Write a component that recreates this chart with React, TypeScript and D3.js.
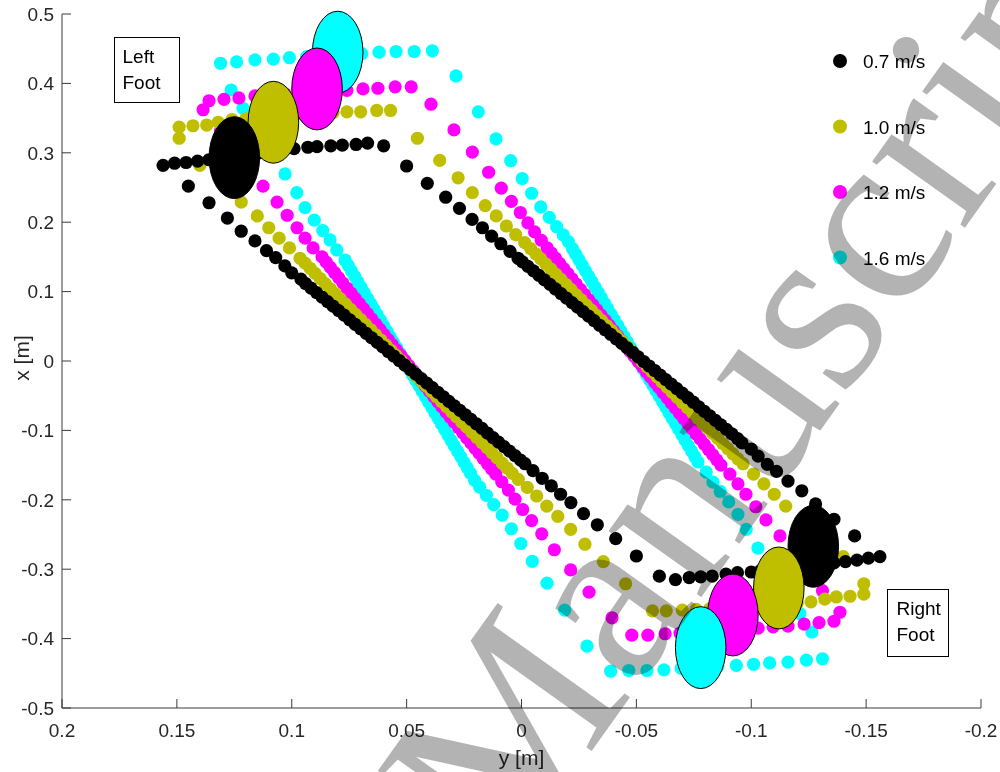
import React from "react";
import * as d3 from "d3";

// Every point is [lateral y, forward x] in millimetres.
type P = [number, number];

const SPEEDS = ["0.7 m/s", "1.0 m/s", "1.2 m/s", "1.6 m/s"];
const COLORS = ["#000000", "#bfbf00", "#ff00ff", "#00ffff"];

const X_TICKS = [0.2, 0.15, 0.1, 0.05, 0, -0.05, -0.1, -0.15, -0.2];
const X_TICK_LABELS = ["0.2", "0.15", "0.1", "0.05", "0", "-0.05", "-0.1", "-0.15", "-0.2"];
const Y_TICKS = [0.5, 0.4, 0.3, 0.2, 0.1, 0, -0.1, -0.2, -0.3, -0.4, -0.5];
const Y_TICK_LABELS = ["0.5", "0.4", "0.3", "0.2", "0.1", "0", "-0.1", "-0.2", "-0.3", "-0.4", "-0.5"];

// ---- 0.7 m/s ----
const BLACK_LEFT_ROW: P[] = [[156,282],[151,285],[146,286],[141,288],[136,290],[130,293],[126,295],[120,297],[115,299],[110,301],[105,303],[99,306],[93,308],[89,309],[83,310],[78,311],[72,312],[67,314],[60,310]];
const BLACK_DIAG_A: P[] = [[145,252],[136,228],[128,206],[122,187],[116,173],[111,159],[107,149],[103,137],[100,127],[96,118],
  [94,111.7],[91.6,105.1],[89.2,98.6],[86.8,92.1],[84.4,85.6],[82,79],[79.6,72.5],[77.2,66],[74.8,59.4],[72.4,52.9],[70,46.4],[67.6,39.9],[65.2,33.3],[62.8,26.8],[60.4,20.3],[58,13.7],[55.6,7.2],[53.2,0.7],[50.8,-5.8],[48.4,-12.4],[46,-18.9],[43.6,-25.4],[41.2,-32],[38.8,-38.5],[36.4,-45],[34,-51.5],[31.6,-58.1],[29.2,-64.6],[26.8,-71.1],[24.4,-77.6],[22,-84.2],[19.6,-90.7],[17.2,-97.2],[14.8,-103.8],[12.4,-110.3],[10,-116.8],[7.6,-123.3],[5.2,-129.9],[2.8,-136.4],[0.4,-142.9],
  [-1.5,-148],[-5,-158],[-9,-169],[-13,-180],[-17,-192],[-21.5,-204],[-27,-220],[-33,-236],[-41,-256],[-50,-281]];
const BLACK_RIGHT_ROW: P[] = [[-156,-282],[-151,-284],[-146,-287],[-141,-289],[-136,-291],[-130,-293],[-125,-295],[-120,-297],[-115,-299],[-110,-300],[-104,-302],[-100,-304],[-94,-305],[-89,-307],[-83,-310],[-78,-311],[-73,-312],[-67,-315],[-60,-310]];
const BLACK_DIAG_B: P[] = [[50,281],[41,256],[33,236],[27,220],[21.5,204],[17,192],[13,180],[9,169],[5,158],[1.5,148],
  [-0.4,142.9],[-2.8,136.4],[-5.2,129.9],[-7.6,123.3],[-10,116.8],[-12.4,110.3],[-14.8,103.8],[-17.2,97.2],[-19.6,90.7],[-22,84.2],[-24.4,77.6],[-26.8,71.1],[-29.2,64.6],[-31.6,58.1],[-34,51.5],[-36.4,45],[-38.8,38.5],[-41.2,32],[-43.6,25.4],[-46,18.9],[-48.4,12.4],[-50.8,5.8],[-53.2,-0.7],[-55.6,-7.2],[-58,-13.7],[-60.4,-20.3],[-62.8,-26.8],[-65.2,-33.3],[-67.6,-39.9],[-70,-46.4],[-72.4,-52.9],[-74.8,-59.4],[-77.2,-66],[-79.6,-72.5],[-82,-79],[-84.4,-85.6],[-86.8,-92.1],[-89.2,-98.6],[-91.6,-105.1],[-94,-111.7],
  [-96,-118],[-100,-127],[-103,-137],[-107,-149],[-111,-159],[-116,-173],[-122,-187],[-128,-206],[-136,-228],[-145,-252]];

// ---- 1.0 m/s ----
const OLIVE_LEFT_ROW: P[] = [[149,337],[143,339],[137,340],[132,344],[126,348],[120,349],[113,351],[107,352],[101,354],[95,355],[89,357],[82,358],[76,359],[70,359],[63,361],[57,361]];
const OLIVE_DIAG_A: P[] = [[149,321],[140,282],[130,255],[122,229],[115,209],[110,192],[105.5,177],[101,163],[96.4,148],
  [94.2,141],[92,133.6],[89.8,126.2],[87.6,118.9],[85.4,111.5],[83.2,104.1],[81,96.7],[78.8,89.3],[76.6,81.9],[74.4,74.5],[72.2,67.1],[70,59.8],[67.8,52.4],[65.6,45],[63.4,37.6],[61.2,30.2],[59,22.8],[56.8,15.4],[54.6,8],[52.4,0.7],[50.2,-6.7],[48,-14.1],[45.8,-21.5],[43.6,-28.9],[41.4,-36.3],[39.2,-43.7],[37,-51.1],[34.8,-58.4],[32.6,-65.8],[30.4,-73.2],[28.2,-80.6],[26,-88],[23.8,-95.4],[21.6,-102.8],[19.4,-110.2],[17.2,-117.5],[15,-124.9],[12.8,-132.3],[10.6,-139.7],[8.4,-147.1],[6.2,-154.5],[4,-161.9],
  [1.4,-170.5],[-2.5,-182],[-6.6,-194.5],[-11,-209],[-15.8,-224],[-21.4,-242.5],[-27.6,-264],[-35.6,-289],[-45.3,-321]];
const OLIVE_RIGHT_ROW: P[] = [[-149,-336],[-143,-339],[-137,-340],[-132,-343],[-126,-347],[-120,-349],[-113,-350],[-107,-352],[-101,-353],[-95,-355],[-89,-356],[-82,-357],[-76,-358],[-70,-359],[-63,-360],[-57,-360]];
const OLIVE_DIAG_B: P[] = [[45.3,321],[35.6,289],[27.6,264],[21.4,242.5],[15.8,224],[11,209],[6.6,194.5],[2.5,182],[-1.4,170.5],
  [-4,161.9],[-6.2,154.5],[-8.4,147.1],[-10.6,139.7],[-12.8,132.3],[-15,124.9],[-17.2,117.5],[-19.4,110.2],[-21.6,102.8],[-23.8,95.4],[-26,88],[-28.2,80.6],[-30.4,73.2],[-32.6,65.8],[-34.8,58.4],[-37,51.1],[-39.2,43.7],[-41.4,36.3],[-43.6,28.9],[-45.8,21.5],[-48,14.1],[-50.2,6.7],[-52.4,-0.7],[-54.6,-8],[-56.8,-15.4],[-59,-22.8],[-61.2,-30.2],[-63.4,-37.6],[-65.6,-45],[-67.8,-52.4],[-70,-59.8],[-72.2,-67.1],[-74.4,-74.5],[-76.6,-81.9],[-78.8,-89.3],[-81,-96.7],[-83.2,-104.1],[-85.4,-111.5],[-87.6,-118.9],[-89.8,-126.2],[-92,-133.6],[-94.2,-141],
  [-96.4,-148],[-101,-163],[-105.5,-177],[-110,-192],[-115,-209],[-122,-229],[-130,-255],[-140,-282],[-149,-321]];

// ---- 1.2 m/s ----
const MAGENTA_LEFT_ROW: P[] = [[136,375],[129.5,377],[123,379],[116,382],[109.5,383],[103,385],[96,386],[89,388],[83,388],[76,390],[69,392],[62.5,393],[55,395],[48,395]];
const MAGENTA_DIAG_A: P[] = [[138.6,362],[131,331],[124,303],[118,278],[112.5,252],[106.4,229],[102,210],[97.7,192],[94.2,177],[90.7,163],[86.8,150],
  [85,142.4],[83.2,135],[81.4,127.5],[79.6,120.1],[77.8,112.6],[76,105.2],[74.2,97.7],[72.4,90.3],[70.6,82.8],[68.8,75.4],[67,67.9],[65.2,60.5],[63.4,53],[61.6,45.6],[59.8,38.1],[58,30.7],[56.2,23.2],[54.4,15.8],[52.6,8.3],[50.8,0.9],[49,-6.6],[47.2,-14],[45.4,-21.5],[43.6,-28.9],[41.8,-36.4],[40,-43.8],[38.2,-51.3],[36.4,-58.7],[34.6,-66.2],[32.8,-73.6],[31,-81.1],[29.2,-88.5],[27.4,-96],[25.6,-103.4],[23.8,-110.9],[22,-118.3],[20.2,-125.8],[18.4,-133.2],[16.6,-140.7],[14.8,-148.1],[13,-155.6],[11.2,-163],
  [8.6,-174],[5.7,-186],[2.8,-199],[-0.5,-214],[-4.4,-230],[-8.8,-249],[-14.3,-272],[-21.4,-301],[-29.4,-333],[-39.4,-370]];
const MAGENTA_RIGHT_ROW: P[] = [[-136,-375],[-129.5,-377],[-123,-379],[-116,-382],[-109.5,-383],[-103,-385],[-96,-386],[-89,-388],[-83,-388],[-76,-390],[-69,-392],[-62.5,-393],[-55,-395],[-48,-395]];
const MAGENTA_DIAG_B: P[] = [[39.4,370],[29.4,333],[21.4,301],[14.3,272],[8.8,249],[4.4,230],[0.5,214],[-2.8,199],[-5.7,186],[-8.6,174],
  [-11.2,163],[-13,155.6],[-14.8,148.1],[-16.6,140.7],[-18.4,133.2],[-20.2,125.8],[-22,118.3],[-23.8,110.9],[-25.6,103.4],[-27.4,96],[-29.2,88.5],[-31,81.1],[-32.8,73.6],[-34.6,66.2],[-36.4,58.7],[-38.2,51.3],[-40,43.8],[-41.8,36.4],[-43.6,28.9],[-45.4,21.5],[-47.2,14],[-49,6.6],[-50.8,-0.9],[-52.6,-8.3],[-54.4,-15.8],[-56.2,-23.2],[-58,-30.7],[-59.8,-38.1],[-61.6,-45.6],[-63.4,-53],[-65.2,-60.5],[-67,-67.9],[-68.8,-75.4],[-70.6,-82.8],[-72.4,-90.3],[-74.2,-97.7],[-76,-105.2],[-77.8,-112.6],[-79.6,-120.1],[-81.4,-127.5],[-83.2,-135],[-85,-142.4],
  [-86.8,-150],[-90.7,-163],[-94.2,-177],[-97.7,-192],[-102,-210],[-106.4,-229],[-112.5,-252],[-118,-278],[-124,-303],[-131,-331],[-138.6,-362]];

// ---- 1.6 m/s ----
const CYAN_LEFT_ROW: P[] = [[131,429],[124,431],[116,434],[108,435],[101,437],[93.5,438.5],[85.5,439.5],[78,441],[69.5,443],[62,445],[54.6,446],[46.7,446],[38.8,447]];
const CYAN_DIAG_A: P[] = [[126.4,390.5],[121.2,364],[115.5,333.6],[109,301],[102.9,269.5],[97.8,242.5],[94.2,221],[90.2,203],[86.5,188],[83.3,174.4],[80.4,160],[76.8,145.5],
  [75.4,137.6],[74,129.7],[72.6,121.9],[71.2,114],[69.8,106.1],[68.4,98.2],[67,90.3],[65.6,82.5],[64.2,74.6],[62.8,66.7],[61.4,58.8],[60,50.9],[58.6,43.1],[57.2,35.2],[55.8,27.3],[54.4,19.4],[53,11.6],[51.6,3.7],[50.2,-4.2],[48.8,-12.1],[47.4,-20],[46,-27.8],[44.6,-35.7],[43.2,-43.6],[41.8,-51.5],[40.4,-59.4],[39,-67.2],[37.6,-75.1],[36.2,-83],[34.8,-90.9],[33.4,-98.7],[32,-106.6],[30.6,-114.5],[29.2,-122.4],[27.8,-130.3],[26.4,-138.1],[25,-146],[23.6,-153.9],[22.2,-161.8],
  [20.4,-172],[18.2,-181.6],[15.3,-193.5],[12.1,-207],[8.4,-222],[4.4,-241.7],[0.3,-263],[-4.7,-288.6],[-11.1,-320],[-18.8,-359],[-28.5,-410.7]];
const CYAN_RIGHT_ROW: P[] = [[-131,-429],[-124,-431],[-116,-434],[-108,-435],[-101,-437],[-93.5,-438.5],[-85.5,-439.5],[-78,-441],[-69.5,-443],[-62,-445],[-54.6,-446],[-46.7,-446],[-38.8,-447]];
const CYAN_DIAG_B: P[] = [[28.5,410.7],[18.8,359],[11.1,320],[4.7,288.6],[-0.3,263],[-4.4,241.7],[-8.4,222],[-12.1,207],[-15.3,193.5],[-18.2,181.6],[-20.4,172],
  [-22.2,161.8],[-23.6,153.9],[-25,146],[-26.4,138.1],[-27.8,130.3],[-29.2,122.4],[-30.6,114.5],[-32,106.6],[-33.4,98.7],[-34.8,90.9],[-36.2,83],[-37.6,75.1],[-39,67.2],[-40.4,59.4],[-41.8,51.5],[-43.2,43.6],[-44.6,35.7],[-46,27.8],[-47.4,20],[-48.8,12.1],[-50.2,4.2],[-51.6,-3.7],[-53,-11.6],[-54.4,-19.4],[-55.8,-27.3],[-57.2,-35.2],[-58.6,-43.1],[-60,-50.9],[-61.4,-58.8],[-62.8,-66.7],[-64.2,-74.6],[-65.6,-82.5],[-67,-90.3],[-68.4,-98.2],[-69.8,-106.1],[-71.2,-114],[-72.6,-121.9],[-74,-129.7],[-75.4,-137.6],
  [-76.8,-145.5],[-80.4,-160],[-83.3,-174.4],[-86.5,-188],[-90.2,-203],[-94.2,-221],[-97.8,-242.5],[-102.9,-269.5],[-109,-301],[-115.5,-333.6],[-121.2,-364],[-126.4,-390.5]];

// Foot placements (ellipse centres, mm), one per speed
const LEFT_FOOT: P[] = [[125,293],[108,344],[89,392],[80,445]];
const RIGHT_FOOT: P[] = [[-127,-267],[-112,-327],[-92,-366],[-78,-413]];
const FOOT_RX = 11; // mm, lateral semi-axis
const FOOT_RY = 59; // mm, forward semi-axis

const SERIES: P[][] = [
  [...BLACK_LEFT_ROW, ...BLACK_DIAG_A, ...BLACK_RIGHT_ROW, ...BLACK_DIAG_B],
  [...OLIVE_LEFT_ROW, ...OLIVE_DIAG_A, ...OLIVE_RIGHT_ROW, ...OLIVE_DIAG_B],
  [...MAGENTA_LEFT_ROW, ...MAGENTA_DIAG_A, ...MAGENTA_RIGHT_ROW, ...MAGENTA_DIAG_B],
  [...CYAN_LEFT_ROW, ...CYAN_DIAG_A, ...CYAN_RIGHT_ROW, ...CYAN_DIAG_B],
];

const W = 1000;
const H = 772;
const M = { left: 62, right: 981, top: 14, bottom: 708 };
const AXIS = "#3a3a3a";
const SANS = "'Liberation Sans', Arial, Helvetica, sans-serif";

export default function App() {
  const xs = d3.scaleLinear().domain([0.2, -0.2]).range([M.left, M.right]);
  const ys = d3.scaleLinear().domain([-0.5, 0.5]).range([M.bottom, M.top]);
  const px = (p: P) => xs(p[0] / 1000);
  const py = (p: P) => ys(p[1] / 1000);
  const rxPx = Math.abs(xs(FOOT_RX / 1000) - xs(0));
  const ryPx = Math.abs(ys(FOOT_RY / 1000) - ys(0));

  const drawOrder = [3, 2, 1, 0];

  return (
    <svg
      width={W}
      height={H}
      viewBox={`0 0 ${W} ${H}`}
      style={{ position: "absolute", left: 0, top: 0, background: "#fff", display: "block" }}
      fontFamily={SANS}
    >
      <rect x={0} y={0} width={W} height={H} fill="#fff" />

      {/* trajectories */}
      {drawOrder.map((si) => (
        <g key={`s${si}`} fill={COLORS[si]}>
          {SERIES[si].map((p, i) => (
            <circle key={i} cx={px(p)} cy={py(p)} r={6.6} />
          ))}
        </g>
      ))}

      {/* foot placements */}
      <g stroke="#000" strokeWidth={1}>
        {[3, 2, 1, 0].map((si) => (
          <ellipse key={`lf${si}`} cx={px(LEFT_FOOT[si])} cy={py(LEFT_FOOT[si])} rx={rxPx} ry={ryPx} fill={COLORS[si]} />
        ))}
        {[0, 1, 2, 3].map((si) => (
          <ellipse key={`rf${si}`} cx={px(RIGHT_FOOT[si])} cy={py(RIGHT_FOOT[si])} rx={rxPx} ry={ryPx} fill={COLORS[si]} />
        ))}
      </g>

      {/* axes */}
      <g stroke={AXIS} strokeWidth={1} fill="none">
        <line x1={M.left} y1={M.top} x2={M.left} y2={M.bottom} />
        <line x1={M.left} y1={M.bottom} x2={M.right} y2={M.bottom} />
        {Y_TICKS.map((t) => (
          <line key={`yt${t}`} x1={M.left} x2={M.left + 9} y1={ys(t)} y2={ys(t)} />
        ))}
        {X_TICKS.map((t) => (
          <line key={`xt${t}`} x1={xs(t)} x2={xs(t)} y1={M.bottom} y2={M.bottom - 9} />
        ))}
      </g>
      <g fill="#262626" fontSize={19}>
        {Y_TICKS.map((t, i) => (
          <text key={`yl${t}`} x={54} y={ys(t) + 6.8} textAnchor="end">{Y_TICK_LABELS[i]}</text>
        ))}
        {X_TICKS.map((t, i) => (
          <text key={`xl${t}`} x={xs(t)} y={737} textAnchor="middle">{X_TICK_LABELS[i]}</text>
        ))}
        <text x={xs(0)} y={765} textAnchor="middle" fontSize={21}>y [m]</text>
        <text transform={`translate(29,${ys(0) - 3}) rotate(-90)`} textAnchor="middle" fontSize={21}>x [m]</text>
      </g>

      {/* foot annotations */}
      <g fontSize={19} fill="#000">
        <rect x={114.5} y={37.5} width={65} height={65} fill="#fff" stroke="#000" strokeWidth={1} />
        <text x={122.5} y={63.3}>Left</text>
        <text x={122.5} y={89.3}>Foot</text>
        <rect x={887.5} y={589.5} width={61} height={67} fill="#fff" stroke="#000" strokeWidth={1} />
        <text x={896.5} y={615.3}>Right</text>
        <text x={896.5} y={640.7}>Foot</text>
      </g>

      {/* legend */}
      <g fontSize={19} fill="#000">
        {SPEEDS.map((s, i) => (
          <g key={s}>
            <circle cx={840} cy={61 + i * 65.5} r={7} fill={COLORS[i]} />
            <text x={863} y={61 + i * 65.5 + 7}>{s}</text>
          </g>
        ))}
      </g>

      {/* watermark */}
      <g
        transform="translate(506,871) rotate(-54.5)"
        fontFamily="'Liberation Serif', 'Times New Roman', serif"
        fontSize={248}
        fill="#b3b3b3"
        style={{ mixBlendMode: "multiply" }}
      >
        <text x={-62} textAnchor="end">Accepted</text>
        <text x={0}>Manuscript</text>
      </g>
    </svg>
  );
}
